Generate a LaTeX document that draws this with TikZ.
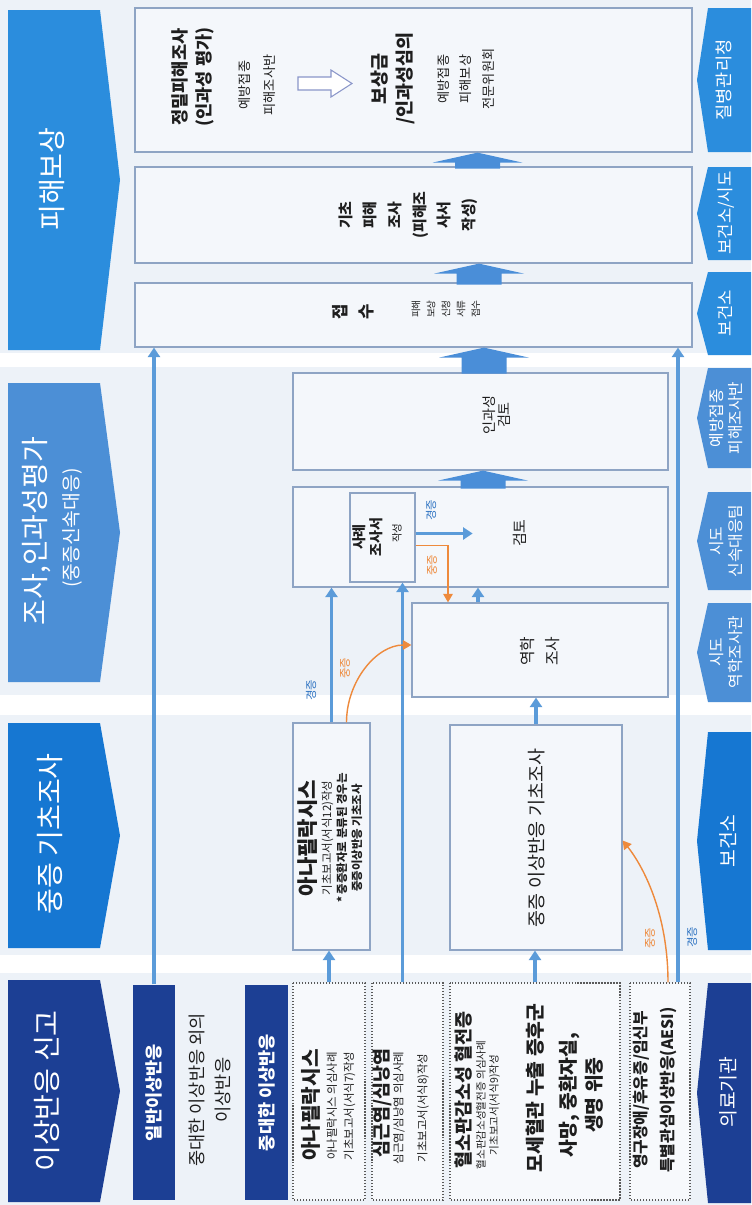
\documentclass[tikz,border=0pt]{standalone}
\usepackage{fontspec}
\setmainfont{Noto Sans CJK KR}
\usetikzlibrary{arrows.meta}
\usetikzlibrary{calc}
\definecolor{aefiBg}{HTML}{EDF2F8}
\definecolor{aefiBox}{HTML}{F4F7FB}
\definecolor{aefiPaper}{HTML}{F7F9FC}
\definecolor{aefiLine}{HTML}{8EA4C4}
\definecolor{aefiDots}{HTML}{5A5A5A}
\definecolor{aefiNavy}{HTML}{1C3F94}
\definecolor{aefiBlueA}{HTML}{1677D2}
\definecolor{aefiBlueB}{HTML}{4C8FD6}
\definecolor{aefiBlueC}{HTML}{2B8DDD}
\definecolor{aefiFlow}{HTML}{5B9BD9}
\definecolor{aefiBig}{HTML}{4A8ED8}
\definecolor{aefiOrange}{HTML}{EE8A3C}
\definecolor{aefiMild}{HTML}{2E73C2}
\definecolor{aefiText}{HTML}{1E1E1E}
\definecolor{aefiHollow}{HTML}{8A96C9}
\tikzset{
  aefi box/.style={
    rotate=90,
    rectangle,
    draw=aefiLine,
    line width=0.7pt,
    fill=aefiBox,
    inner sep=0pt,
  },
}
\tikzset{
  aefi dotted/.style={
    aefi box,
    draw=aefiDots,
    densely dotted,
    fill=aefiPaper,
  },
}
\tikzset{
  aefi navy/.style={
    aefi box,
    draw=none,
    fill=aefiNavy,
  },
}
\tikzset{
  aefi text/.style={
    rotate=90,
    inner sep=0pt,
    align=center,
    text=aefiText,
  },
}
\tikzset{
  aefi tag/.style={
    aefi text,
    font=\fontsize{6.5}{7}\selectfont,
  },
}
\tikzset{
  aefi flow/.style={
    -{Triangle[width=2.4mm,length=1.9mm]},
    draw=aefiFlow,
    line width=1.8pt,
  },
}
\tikzset{
  aefi severe/.style={
    -{Triangle[width=1.9mm,length=1.7mm]},
    draw=aefiOrange,
    line width=0.8pt,
  },
}
\tikzset{
  aefi figure/.style={
    x=0.2mm,
    y=-0.2mm,
  },
}

\begin{document}
\begin{tikzpicture}[aefi figure]

  % =========================================================================
  % page background and the white bands between the stages
  % =========================================================================
  \useasboundingbox (0,0) rectangle (751,1205);
  \fill[aefiBg] (0,0) rectangle (751,1205);
  \foreach \ya/\yb in {353/367, 695/715, 955/973}
    \fill[white] (0,\ya) rectangle (751,\yb);

  % =========================================================================
  % stage headers (left) and agencies (right)
  % =========================================================================
  \foreach \ya/\yb/\col in {980/1202/aefiNavy, 723/948/aefiBlueA,
                            383/682/aefiBlueB, 10/350/aefiBlueC}
    \fill[\col] (8,\ya) -- (100,\ya) -- (120,{(\ya+\yb)/2})
      -- (100,\yb) -- (8,\yb) -- cycle;

  \foreach \ya/\yb/\col in {8/152/aefiBlueC, 167/260/aefiBlueC,
                            272/355/aefiBlueC, 368/468/aefiBlueB,
                            492/590/aefiBlueB, 603/702/aefiBlueB,
                            732/950/aefiBlueA, 983/1203/aefiNavy}
    \fill[\col] (751,\ya) -- (708,\ya) -- (697,{(\ya+\yb)/2})
      -- (708,\yb) -- (751,\yb) -- cycle;

  \node[aefi text, text=white, font=\fontsize{16}{19}\selectfont]
    (hdr-report) at (47,1091) {이상반응 신고};
  \node[aefi text, text=white, font=\fontsize{16}{19}\selectfont]
    (hdr-basic) at (50,834) {중증 기초조사};
  \node[aefi text, text=white, font=\fontsize{16}{19}\selectfont]
    (hdr-inv) at (37,531) {조사,인과성평가};
  \node[aefi text, text=white, font=\fontsize{11}{13}\selectfont]
    (hdr-inv-sub) at (72,528) {(중증신속대응)};
  \node[aefi text, text=white, font=\fontsize{16}{19}\selectfont]
    (hdr-comp) at (52,179) {피해보상};

  \node[aefi text, text=white, font=\fontsize{10}{12}\selectfont]
    (lab-kdca) at (724,80) {질병관리청};
  \node[aefi text, text=white, font=\fontsize{9.5}{12}\selectfont]
    (lab-city) at (726,213) {보건소/시도};
  \node[aefi text, text=white, font=\fontsize{9.5}{12}\selectfont]
    (lab-phc1) at (725,313) {보건소};
  \node[aefi text, text=white, font=\fontsize{9}{11}\selectfont]
    (lab-team) at (726,418) {예방접종\\피해조사반};
  \node[aefi text, text=white, font=\fontsize{9}{11}\selectfont]
    (lab-rrt) at (726,541) {시도\\신속대응팀};
  \node[aefi text, text=white, font=\fontsize{9}{11}\selectfont]
    (lab-epi) at (726,652) {시도\\역학조사관};
  \node[aefi text, text=white, font=\fontsize{11}{13}\selectfont]
    (lab-phc2) at (728,841) {보건소};
  \node[aefi text, text=white, font=\fontsize{11}{13}\selectfont]
    (lab-hosp) at (728,1092) {의료기관};

  % =========================================================================
  % stage 1: reporting
  % =========================================================================
  \node[aefi navy, minimum width=43mm, minimum height=8.4mm]
    (general) at (154,1092.5) {};
  \node[aefi text, text=white, font=\bfseries\fontsize{10}{12}\selectfont]
    (general-txt) at (general.center) {일반이상반응};
  \node[aefi text, font=\fontsize{10}{15}\selectfont]
    (nonserious) at (210,1090) {중대한 이상반응 외의\\이상반응};
  \node[aefi navy, minimum width=43mm, minimum height=8.6mm]
    (serious) at (266.5,1092.5) {};
  \node[aefi text, text=white, font=\bfseries\fontsize{10}{12}\selectfont]
    (serious-txt) at (serious.center) {중대한 이상반응};

  \node[aefi dotted, minimum width=43.4mm, minimum height=14.4mm]
    (ana) at (329,1091.5) {};
  \node[aefi text, font=\bfseries\fontsize{11.5}{14}\selectfont]
    (ana-title) at (311,1105) {아나필락시스};
  \node[aefi text, font=\fontsize{6.5}{9.6}\selectfont]
    (ana-note) at (341,1106) {아나필락시스 의심사례\\기초보고서(서식7)작성};

  \node[aefi dotted, minimum width=43.4mm, minimum height=14.2mm]
    (myo) at (407.5,1091.5) {};
  \node[aefi text, font=\bfseries\fontsize{10.5}{14}\selectfont]
    (myo-title) at (382,1103) {심근염/심낭염};
  \node[aefi text, font=\fontsize{6.5}{13.6}\selectfont]
    (myo-note) at (411,1108) {심근염/심낭염 의심사례\\기초보고서(서식8)작성};

  \node[aefi dotted, minimum width=43.4mm, minimum height=34mm]
    (tts) at (535,1091.5) {};
  \node[aefi text, font=\bfseries\fontsize{10.5}{12}\selectfont]
    (tts-title) at (464,1090) {혈소판감소성 혈전증};
  \node[aefi text, font=\fontsize{6}{7.4}\selectfont]
    (tts-note) at (488,1105) {혈소판감소성혈전증 의심사례\\기초보고서(서식9)작성};
  \node[aefi text, font=\bfseries\fontsize{11}{13}\selectfont]
    (tts-cls) at (535,1088) {모세혈관 누출 증후군};
  \node[aefi text, font=\bfseries\fontsize{11}{14.7}\selectfont]
    (tts-death) at (581,1095) {사망, 중환자실,\\생명 위중};

  \node[aefi dotted, minimum width=43.4mm, minimum height=12mm]
    (aesi) at (660,1091.5) {};
  \node[aefi text, font=\bfseries\fontsize{9}{15}\selectfont]
    (aesi-txt) at (655,1090) {영구장애/후유증/임신부\\특별관심이상반응(AESI)};

  % =========================================================================
  % stage 2: basic investigation of serious cases
  % =========================================================================
  \node[aefi box, minimum width=45.4mm, minimum height=15.4mm]
    (anasev) at (331.5,836.5) {};
  \node[aefi text, font=\bfseries\fontsize{12}{14}\selectfont]
    (anasev-title) at (308,838) {아나필락시스};
  \node[aefi text, font=\fontsize{6.5}{8.5}\selectfont]
    (anasev-note) at (342,838)
    {기초보고서(서식12)작성\\\textbf{* 중증환자로 분류된 경우는}\\\textbf{중증이상반응 기초조사}};

  \node[aefi box, minimum width=45mm, minimum height=34.4mm]
    (basic) at (536,837.5) {};
  \node[aefi text, font=\fontsize{10.5}{12}\selectfont]
    (basic-txt) at (537,838) {중증 이상반응 기초조사};

  % =========================================================================
  % stage 3: investigation and causality
  % =========================================================================
  \node[aefi box, minimum width=18.8mm, minimum height=51.2mm]
    (epi) at (540,650) {};
  \node[aefi text, font=\fontsize{9}{14.7}\selectfont]
    (epi-txt) at (540,651) {역학\\조사};

  \node[aefi box, minimum width=20mm, minimum height=75mm]
    (review) at (480.5,537) {};
  \node[aefi text, font=\fontsize{8.5}{10}\selectfont]
    (review-txt) at (520,533) {검토};
  \node[aefi box, minimum width=17.8mm, minimum height=13mm]
    (case) at (382.5,537.5) {};
  \node[aefi text, font=\bfseries\fontsize{8}{9.6}\selectfont]
    (case-txt) at (368,537) {사례\\조사서};
  \node[aefi text, font=\fontsize{6}{7}\selectfont]
    (case-sub) at (397,533) {작성};

  \node[aefi box, minimum width=19.4mm, minimum height=75mm]
    (causal) at (480.5,421.5) {};
  \node[aefi text, font=\fontsize{8}{8.5}\selectfont]
    (causal-txt) at (497,415) {인과성\\검토};

  % =========================================================================
  % stage 4: compensation
  % =========================================================================
  \node[aefi box, minimum width=12.8mm, minimum height=111.4mm]
    (receipt) at (413.5,315) {};
  \node[aefi text, font=\bfseries\fontsize{9.5}{15}\selectfont]
    (receipt-txt) at (353,312) {접\\수};
  \node[aefi text, font=\fontsize{5.5}{8.5}\selectfont]
    (receipt-note) at (446,309) {피해\\보상\\신청\\서류\\접수};

  \node[aefi box, minimum width=19.2mm, minimum height=111.4mm]
    (basicdmg) at (413.5,215) {};
  \node[aefi text, font=\bfseries\fontsize{8.5}{14}\selectfont]
    (basicdmg-txt) at (408,215) {기초\\피해\\조사\\(피해조\\사서\\작성)};

  \node[aefi box, minimum width=28.8mm, minimum height=111.4mm]
    (detail) at (413.5,80) {};
  \node[aefi text, font=\bfseries\fontsize{10}{14}\selectfont]
    (detail-title) at (193,77) {정밀피해조사\\(인과성 평가)};
  \node[aefi text, font=\fontsize{7.5}{14}\selectfont]
    (detail-team) at (257,85) {예방접종\\피해조사반};
  \node[aefi text, font=\bfseries\fontsize{10.5}{14}\selectfont]
    (detail-award) at (393,79) {보상금\\/인과성심의};
  \node[aefi text, font=\fontsize{7.5}{13}\selectfont]
    (detail-cmte) at (466,79) {예방접종\\피해보상\\전문위원회};

  % hollow arrow between the two bodies
  \draw[aefiHollow, fill=white, line width=0.6pt]
    (298,77) -- (331,77) -- (331,70) -- (352,83.5)
    -- (331,97) -- (331,90) -- (298,90) -- cycle;

  % =========================================================================
  % mild-case flow (blue)
  % =========================================================================
  \draw[aefi flow] (general.east) -- (general.east |- receipt.west);
  \draw[aefi flow] (ana.east) -- (ana.east |- anasev.west);
  \coordinate (myo-up) at ($(myo.east)+(-5,0)$);
  \draw[aefi flow] (myo-up) -- (myo-up |- case.west);
  \draw[aefi flow] (tts.east) -- (tts.east |- basic.west);
  \coordinate (aesi-up) at ($(aesi.east)+(18,0)$);
  \draw[aefi flow] (aesi-up) -- (aesi-up |- receipt.west);
  \draw[aefi flow] (anasev.east) -- (anasev.east |- review.west);
  \draw[aefi flow] (basic.east) -- (basic.east |- epi.west);
  \coordinate (epi-up) at ($(epi.east)+(-62,0)$);
  \draw[aefi flow] (epi-up) -- (epi-up |- review.west);
  \coordinate (case-out) at ($(case.south)+(0,-4)$);
  \coordinate (review-in) at ($(case-out)+(57,0)$);
  \draw[aefi flow] (case-out) -- (review-in);

  % =========================================================================
  % serious-case flow (orange)
  % =========================================================================
  \draw[aefi severe] ($(aesi.east)+(8,0)$)
    .. controls +(0,-70) and +(20,25) .. ($(basic.south)+(0,3)$);
  \draw[aefi severe] ($(anasev.east)+(15,0)$)
    .. controls +(0,-41) and +(-35,0) .. ($(epi.north)+(0,-5)$);
  \coordinate (case-sev) at ($(case.south)+(0,8)$);
  \draw[aefi severe] (case-sev) -| ($(epi.east)+(-92,0)$);

  \node[aefi tag, text=aefiMild]   (tag-m1) at (692,937) {경증};
  \node[aefi tag, text=aefiOrange] (tag-s1) at (650,938) {중증};
  \node[aefi tag, text=aefiMild]   (tag-m2) at (311,690) {경증};
  \node[aefi tag, text=aefiOrange] (tag-s2) at (345,668) {중증};
  \node[aefi tag, text=aefiMild]   (tag-m3) at (431,510) {경증};
  \node[aefi tag, text=aefiOrange] (tag-s3) at (432,565) {중증};

  % =========================================================================
  % wide block arrows between the stacked steps
  % =========================================================================
  \coordinate (ba1) at ($(causal.west)+(2.5,0)$);
  \coordinate (ba2) at ($(receipt.west)+(70.5,0)$);
  \coordinate (ba3) at ($(basicdmg.west)+(65.5,0)$);
  \coordinate (ba4) at ($(detail.west)+(64,0)$);
  \foreach \tip/\stem in {ba1/8, ba2/16, ba3/11, ba4/6}
    \fill[aefiBig] (\tip) -- ++(45,10) -- ++(-22.5,0) -- ++(0,\stem)
      -- ++(-45,0) -- ++(0,-\stem) -- ++(-22.5,0) -- cycle;

\end{tikzpicture}
\end{document}
